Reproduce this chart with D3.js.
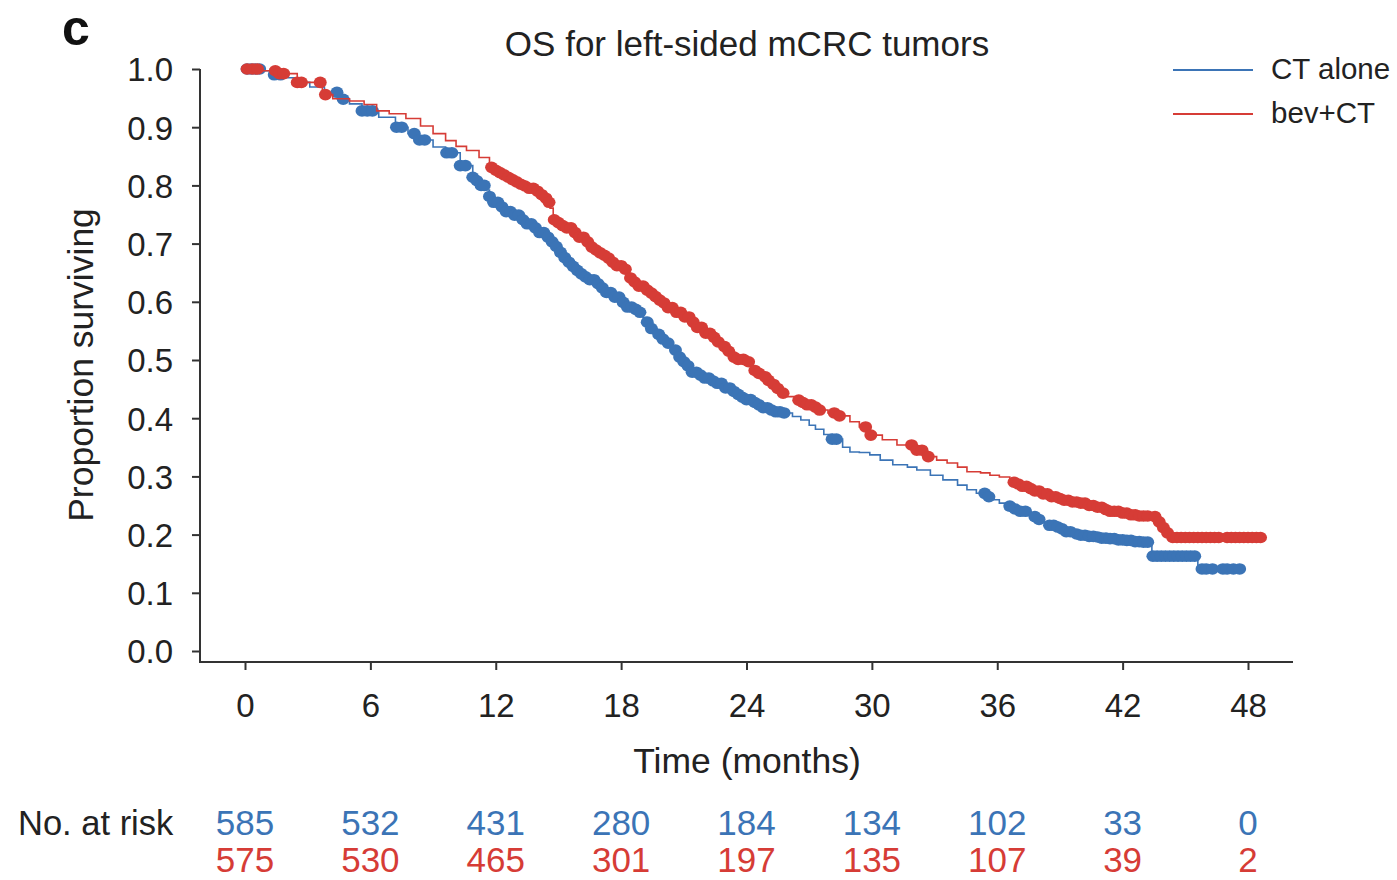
<!DOCTYPE html>
<html>
<head>
<meta charset="utf-8">
<script src="https://cdn.jsdelivr.net/npm/d3@7"></script>
<style>
  html, body { margin: 0; padding: 0; background: #fff; }
  svg { display: block; font-family: "Liberation Sans", Arial, Helvetica, sans-serif; }
</style>
</head>
<body>
<svg id="chart" width="1397" height="880"></svg>
<script>
// Kaplan-Meier step points (time in months, proportion surviving)
const ctTimes = [0, 0.8, 1.4, 1.8, 2.5, 3.1, 3.8, 4.5, 5.0, 5.6, 6.4, 7.2, 7.8, 8.3, 9.0, 9.6, 10.3, 10.9,
  11.1, 11.3, 11.5, 11.7, 11.9, 12.2, 12.5, 12.8, 13.2, 13.5, 13.8, 14.1, 14.4, 14.65, 14.9, 15.1, 15.3, 15.5,
  15.7, 15.9, 16.1, 16.3, 16.5, 16.75, 17.0, 17.3, 17.6, 17.95, 18.3, 18.6, 18.9, 19.05, 19.2, 19.45, 19.7,
  19.9, 20.1, 20.4, 20.7, 20.9, 21.1, 21.4, 21.7, 22.0, 22.3, 22.6, 23.0, 23.25, 23.5, 23.75, 24.0, 24.25,
  24.5, 24.8, 25.1, 25.4, 25.7, 26.2, 26.6, 27.0, 27.3, 27.7, 28.1, 28.6, 28.95, 29.4, 29.9, 30.4, 31.0,
  31.7, 32.15, 32.8, 33.4, 34.1, 34.55, 35.0, 35.5, 35.8, 36.1, 36.4, 36.7, 37.05, 37.4, 37.7, 38.0, 38.25,
  38.5, 38.75, 39.0, 39.3, 39.6, 39.95, 40.3, 40.65, 41.0, 41.4, 41.8, 42.15, 42.5, 42.9, 43.3, 43.4, 45.6];
const ctSurv = [1.0, 0.997, 0.990, 0.985, 0.977, 0.969, 0.960, 0.948, 0.940, 0.928, 0.917, 0.900, 0.889, 0.878, 0.866, 0.856, 0.834, 0.814,
  0.808, 0.800, 0.792, 0.781, 0.771, 0.763, 0.755, 0.749, 0.741, 0.734, 0.727, 0.719, 0.711, 0.703, 0.695, 0.685, 0.676, 0.668,
  0.661, 0.654, 0.648, 0.643, 0.638, 0.631, 0.624, 0.616, 0.608, 0.599, 0.591, 0.587, 0.582, 0.573, 0.565, 0.554, 0.544,
  0.536, 0.529, 0.517, 0.505, 0.497, 0.490, 0.479, 0.474, 0.469, 0.464, 0.460, 0.452, 0.446, 0.441, 0.436, 0.432, 0.427,
  0.423, 0.418, 0.414, 0.411, 0.409, 0.403, 0.397, 0.388, 0.381, 0.372, 0.364, 0.350, 0.342, 0.341, 0.337, 0.328, 0.320,
  0.316, 0.311, 0.302, 0.294, 0.285, 0.277, 0.271, 0.265, 0.260, 0.254, 0.249, 0.244, 0.240, 0.235, 0.231, 0.226, 0.221,
  0.216, 0.213, 0.210, 0.205, 0.201, 0.199, 0.197, 0.196, 0.194, 0.193, 0.191, 0.190, 0.188, 0.187, 0.185, 0.163, 0.141];
const ctEnd = 47.8;

const bevTimes = [0, 0.7, 1.6, 2.5, 3.7, 4.2, 5.0, 5.7, 6.3, 6.9, 7.7, 8.4, 9.0, 9.6, 10.1, 10.6, 11.2, 11.7,
  11.9, 12.1, 12.3, 12.5, 12.75, 13.0, 13.2, 13.4, 13.6, 13.85, 14.1, 14.3, 14.45, 14.6, 14.75, 15.0, 15.2, 15.4,
  15.7, 16.0, 16.25, 16.5, 16.7, 16.9, 17.1, 17.3, 17.55, 17.8, 18.05, 18.3, 18.45, 18.6, 18.85, 19.1, 19.3,
  19.5, 19.7, 19.9, 20.25, 20.6, 20.95, 21.3, 21.65, 22.0, 22.3, 22.6, 22.8, 23.0, 23.2, 23.6, 24.0, 24.15,
  24.3, 24.55, 24.8, 25.0, 25.2, 25.4, 25.6, 25.95, 26.3, 26.6, 26.9, 27.2, 27.5, 27.9, 28.3, 28.95, 29.4,
  29.9, 30.5, 31.2, 31.96, 32.6, 33.1, 33.6, 34.1, 34.55, 35.2, 35.65, 36.1, 36.6, 36.9, 37.2, 37.5, 37.8,
  38.15, 38.5, 38.85, 39.2, 39.6, 40.0, 40.35, 40.7, 41.05, 41.4, 41.85, 42.3, 42.8, 43.3, 43.6, 43.9, 44.1, 44.3];
const bevSurv = [1.0, 0.997, 0.992, 0.977, 0.956, 0.949, 0.945, 0.939, 0.928, 0.923, 0.915, 0.902, 0.889, 0.877, 0.867, 0.860, 0.848, 0.831,
  0.826, 0.822, 0.818, 0.814, 0.810, 0.806, 0.802, 0.799, 0.795, 0.790, 0.784, 0.778, 0.771, 0.761, 0.741, 0.736, 0.731, 0.727,
  0.719, 0.711, 0.703, 0.694, 0.689, 0.684, 0.680, 0.675, 0.668, 0.662, 0.656, 0.649, 0.641, 0.634, 0.627, 0.620, 0.615,
  0.609, 0.603, 0.598, 0.590, 0.582, 0.574, 0.565, 0.556, 0.546, 0.539, 0.531, 0.523, 0.515, 0.505, 0.501, 0.497, 0.490,
  0.482, 0.477, 0.471, 0.465, 0.458, 0.451, 0.443, 0.437, 0.431, 0.427, 0.423, 0.419, 0.414, 0.409, 0.404, 0.394, 0.385,
  0.371, 0.363, 0.354, 0.345, 0.334, 0.328, 0.323, 0.316, 0.308, 0.306, 0.302, 0.299, 0.290, 0.287, 0.283, 0.279, 0.275,
  0.270, 0.265, 0.262, 0.259, 0.256, 0.254, 0.250, 0.247, 0.243, 0.240, 0.237, 0.234, 0.232, 0.231, 0.222, 0.212, 0.203, 0.195];
const bevEnd = 48.8;

// Censoring times (months)
const ctCensor = [0.1, 0.3, 0.5, 0.7, 1.4, 1.7, 4.4, 4.7, 5.6, 5.85, 6.1, 7.25, 7.5, 8.1, 8.35, 8.6, 9.65, 9.9, 10.3, 10.55,
  10.9, 11.1, 11.3, 11.45, 11.7, 11.9, 12.1, 12.3, 12.5, 12.7, 12.9, 13.1, 13.3, 13.5, 13.7, 13.9, 14.1, 14.3, 14.5,
  14.7, 14.9, 15.1, 15.3, 15.5, 15.7, 15.9, 16.1, 16.3, 16.5, 16.7, 16.9, 17.1, 17.3, 17.5, 17.7, 17.9, 18.1, 18.3,
  18.5, 18.7, 18.9, 19.25, 19.45, 19.8, 20.0, 20.25,
  20.6, 20.8, 21.0, 21.2, 21.4, 21.6, 21.8, 22.0, 22.2, 22.4, 22.6, 22.8, 23.0, 23.2, 23.4, 23.6, 23.8, 24.0, 24.2,
  24.4, 24.6, 24.8, 25.0, 25.2, 25.4, 25.6, 25.8, 28.1, 28.3,
  35.4, 35.6, 36.6, 36.85, 37.1, 37.35, 37.8, 38.0, 38.5, 38.7, 38.9, 39.1, 39.3, 39.5, 39.8, 40.0, 40.2, 40.4,
  40.6, 40.8, 41.0, 41.2, 41.4, 41.6, 41.8, 42.0, 42.2, 42.4, 42.6, 42.8, 43.0, 43.2, 43.45, 43.65, 43.85, 44.05,
  44.25, 44.45, 44.65, 44.85, 45.05, 45.25, 45.45, 45.8, 46.0, 46.3, 46.8, 47.0, 47.3, 47.6];
const bevCensor = [0.1, 0.35, 0.6, 1.45, 1.65, 1.85, 2.5, 2.7, 3.6, 3.85,
  11.8, 12.0, 12.2, 12.4, 12.6, 12.8, 13.0, 13.2, 13.4, 13.6, 13.8, 14.0, 14.2, 14.4, 14.55,
  14.8, 15.0, 15.2, 15.4, 15.6, 15.8, 16.0, 16.2, 16.4, 16.6, 16.8, 17.0, 17.2, 17.4, 17.6, 17.8, 18.0, 18.2,
  18.45, 18.65, 18.85, 19.05, 19.25, 19.45, 19.65, 19.85, 20.05, 20.25, 20.45, 20.65, 20.85, 21.05, 21.25, 21.45,
  21.65, 21.85, 22.05, 22.25, 22.45, 22.65, 22.95, 23.15, 23.4, 23.6, 23.85, 24.1, 24.4, 24.6, 24.9, 25.05,
  25.3, 25.5, 25.75, 26.5, 26.7, 26.9, 27.1, 27.3, 27.5, 28.2, 28.45, 29.7, 29.95, 31.9, 32.15, 32.4, 32.7,
  36.8, 37.0, 37.2, 37.4, 37.6, 37.8, 38.0, 38.2, 38.4, 38.6, 38.8, 39.0, 39.2, 39.4, 39.6, 39.8, 40.0, 40.2,
  40.4, 40.6, 40.8, 41.0, 41.2, 41.4, 41.6, 41.8, 42.0, 42.2, 42.4, 42.6, 42.8, 43.0, 43.2, 43.55, 43.75, 43.95,
  44.15, 44.4, 44.6, 44.8, 45.0, 45.2, 45.4, 45.6, 45.8, 46.0, 46.2, 46.4, 46.6, 47.0, 47.2, 47.4, 47.6, 47.8,
  48.0, 48.2, 48.4, 48.6];

// Number at risk table
const riskTimes = [0, 6, 12, 18, 24, 30, 36, 42, 48];
const riskCT = [585, 532, 431, 280, 184, 134, 102, 33, 0];
const riskBev = [575, 530, 465, 301, 197, 135, 107, 39, 2];

const xTicks = [0, 6, 12, 18, 24, 30, 36, 42, 48];
const yTicks = [0, 0.1, 0.2, 0.3, 0.4, 0.5, 0.6, 0.7, 0.8, 0.9, 1.0];

const BLUE = "#3b74b6";
const RED = "#d63c36";
const INK = "#222";
const FONT = "'Liberation Sans', Arial, sans-serif";

const svg = d3.select("#chart");
const x = d3.scaleLinear().domain([0, 48]).range([245, 1248]);
const y = d3.scaleLinear().domain([0, 1]).range([651, 69]);
const axisX0 = 200, axisY0 = 662, axisX1 = 1293;

// axes
const yAxis = svg.append("g")
  .attr("transform", `translate(${axisX0},0)`)
  .call(d3.axisLeft(y).tickValues(yTicks).tickFormat(d3.format(".1f")).tickSize(8).tickPadding(19).tickSizeOuter(0));
yAxis.select(".domain").remove();
yAxis.selectAll("line").attr("stroke", "#333").attr("stroke-width", 2);
yAxis.selectAll("text").attr("font-size", 33).attr("fill", INK).attr("dy", "0.36em").attr("font-family", FONT);

const xAxis = svg.append("g")
  .attr("transform", `translate(0,${axisY0})`)
  .call(d3.axisBottom(x).tickValues(xTicks).tickSize(8).tickPadding(24).tickSizeOuter(0));
xAxis.select(".domain").remove();
xAxis.selectAll("line").attr("stroke", "#333").attr("stroke-width", 2);
xAxis.selectAll("text").attr("font-size", 33).attr("fill", INK).attr("font-family", FONT);

svg.append("line").attr("x1", axisX0).attr("x2", axisX0).attr("y1", y(1)).attr("y2", axisY0 + 1)
  .attr("stroke", "#333").attr("stroke-width", 2);
svg.append("line").attr("x1", axisX0 - 1).attr("x2", axisX1).attr("y1", axisY0).attr("y2", axisY0)
  .attr("stroke", "#333").attr("stroke-width", 2);

// survival curves
function stepAt(times, surv, t) {
  let i = d3.bisectRight(times, t) - 1;
  if (i < 0) i = 0;
  return surv[i];
}

function drawCurve(times, surv, end, censor, color) {
  const pts = times.map((t, i) => [t, surv[i]]);
  pts.push([end, surv[surv.length - 1]]);
  const line = d3.line().x(d => x(d[0])).y(d => y(d[1])).curve(d3.curveStepAfter);
  svg.append("path").datum(pts).attr("d", line)
    .attr("fill", "none").attr("stroke", color).attr("stroke-width", 1.6);
  svg.append("g").selectAll("ellipse").data(censor).join("ellipse")
    .attr("cx", d => x(d))
    .attr("cy", d => y(stepAt(times, surv, d)))
    .attr("rx", 6.5).attr("ry", 5.8)
    .attr("fill", color);
}

drawCurve(ctTimes, ctSurv, ctEnd, ctCensor, BLUE);
drawCurve(bevTimes, bevSurv, bevEnd, bevCensor, RED);

// titles and labels
svg.append("text").attr("x", 62).attr("y", 45).attr("font-size", 50).attr("font-weight", "bold")
  .attr("fill", "#111").text("c");
svg.append("text").attr("x", 747).attr("y", 56).attr("text-anchor", "middle").attr("font-size", 35)
  .attr("fill", INK).text("OS for left-sided mCRC tumors");
svg.append("text").attr("transform", "translate(93,365) rotate(-90)").attr("text-anchor", "middle")
  .attr("font-size", 35.5).attr("fill", INK).text("Proportion surviving");
svg.append("text").attr("x", 747).attr("y", 773).attr("text-anchor", "middle").attr("font-size", 35.5)
  .attr("fill", INK).text("Time (months)");

// legend
const legend = [{ name: "CT alone", color: BLUE, y: 70 }, { name: "bev+CT", color: RED, y: 114 }];
const lg = svg.append("g");
legend.forEach(d => {
  lg.append("line").attr("x1", 1173).attr("x2", 1253).attr("y1", d.y).attr("y2", d.y)
    .attr("stroke", d.color).attr("stroke-width", 2);
  lg.append("text").attr("x", 1271).attr("y", d.y + 9).attr("font-size", 29.5).attr("fill", INK).text(d.name);
});

// number at risk
svg.append("text").attr("x", 18).attr("y", 835).attr("font-size", 34.5).attr("fill", INK).text("No. at risk");
svg.append("g").selectAll("text").data(riskTimes).join("text")
  .attr("x", d => x(d)).attr("y", 835).attr("text-anchor", "middle").attr("font-size", 35)
  .attr("fill", BLUE).text((d, i) => riskCT[i]);
svg.append("g").selectAll("text").data(riskTimes).join("text")
  .attr("x", d => x(d)).attr("y", 872).attr("text-anchor", "middle").attr("font-size", 35)
  .attr("fill", RED).text((d, i) => riskBev[i]);
</script>
</body>
</html>
